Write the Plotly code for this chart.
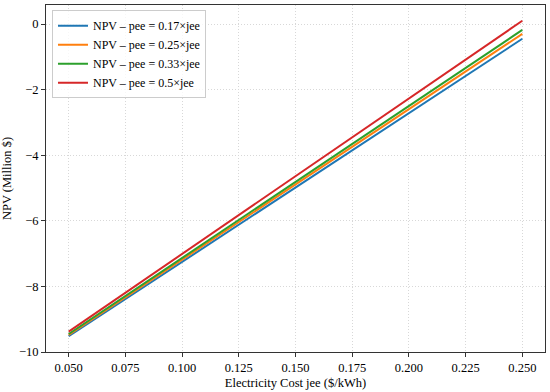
import plotly.graph_objects as go

x_cost = [0.05, 0.25]
series_names = ["NPV – pee = 0.17×jee", "NPV – pee = 0.25×jee",
                "NPV – pee = 0.33×jee", "NPV – pee = 0.5×jee"]
npv_017 = [-9.52, -0.45]
npv_025 = [-9.48, -0.30]
npv_033 = [-9.45, -0.18]
npv_050 = [-9.38, 0.10]
colors = ["#1f77b4", "#ff7f0e", "#2ca02c", "#d62728"]
x_ticks = [0.05, 0.075, 0.1, 0.125, 0.15, 0.175, 0.2, 0.225, 0.25]
y_ticks = [0, -2, -4, -6, -8, -10]

fig = go.Figure()
for name, vals, c in zip(series_names, [npv_017, npv_025, npv_033, npv_050], colors):
    fig.add_trace(go.Scatter(x=x_cost, y=vals, mode="lines", name=name,
                             line=dict(color=c, width=2)))

font = "Liberation Serif, Times New Roman, serif"
axis_common = dict(showline=True, linecolor="#333", linewidth=1, mirror=True,
                   ticks="outside", ticklen=4, tickcolor="#333",
                   showgrid=True, gridcolor="#d8d8d8", griddash="1px,2px", gridwidth=0.8,
                   zeroline=False, tickfont=dict(size=12.5, color="black", family=font))
fig.update_layout(
    width=550, height=392,
    margin=dict(l=43, r=5, t=4, b=38),
    paper_bgcolor="white", plot_bgcolor="white",
    font=dict(family=font, size=12, color="black"),
    xaxis=dict(range=[0.04, 0.26], tickvals=x_ticks, tickformat=".3f",
               title=dict(text="Electricity Cost jee ($/kWh)", font=dict(size=12.5), standoff=4),
               **axis_common),
    yaxis=dict(range=[-10, 0.58], tickvals=y_ticks,
               title=dict(text="NPV (Million $)", font=dict(size=12.5), standoff=6),
               **axis_common),
    legend=dict(x=0.012, y=0.985, xanchor="left", yanchor="top",
                bgcolor="rgba(255,255,255,0.8)", bordercolor="#cccccc", borderwidth=1,
                font=dict(size=12, family=font), tracegroupgap=0, itemwidth=30),
    showlegend=True,
)
fig.write_html("out.html", config={"displayModeBar": False},
               post_script="document.body.style.margin='0';")
